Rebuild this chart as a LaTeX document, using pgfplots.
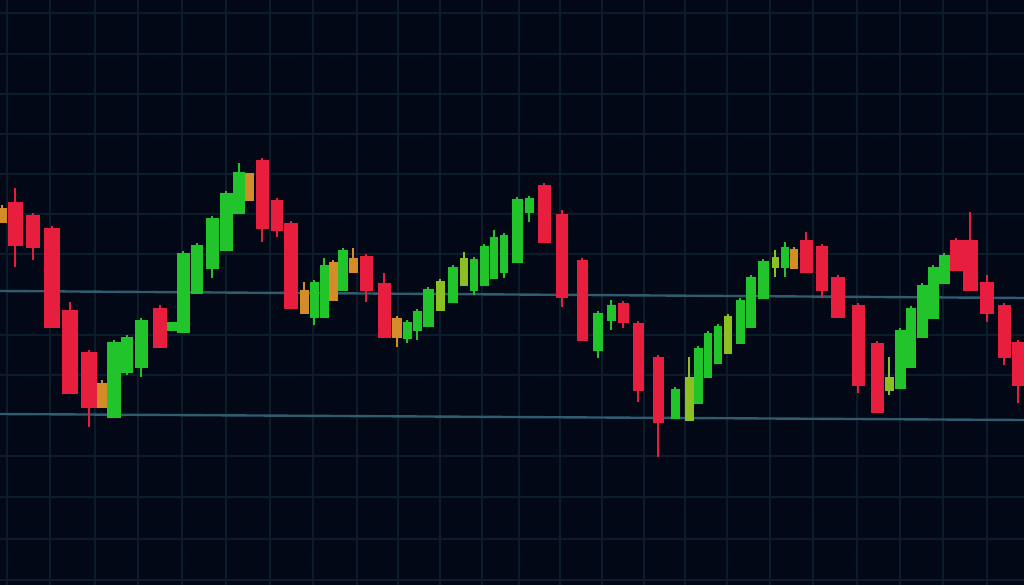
\documentclass[border=0pt]{standalone}
\usepackage{pgfplots}
\pgfplotsset{compat=1.18}
\usepgfplotslibrary{statistics}

\definecolor{bg}{RGB}{3,8,22}
\definecolor{gridc}{RGB}{13,28,42}
\definecolor{level}{RGB}{48,92,112}
\definecolor{cred}{RGB}{232,30,62}
\definecolor{cgreen}{RGB}{34,196,44}
\definecolor{corange}{RGB}{212,140,40}
\definecolor{cyell}{RGB}{140,192,34}

% x, width, wick top, body top, body bottom, wick bottom, colour (picture units, y downwards)
\newcommand\candle[7]{%
  \addplot[#7, fill=#7, line width=0.3pt,
    boxplot prepared={draw direction=y, draw position=#1, box extend=#2,
      lower whisker=#3, lower quartile=#4, median=#4,
      upper quartile=#5, upper whisker=#6, whisker extend=0,
      every whisker/.style={line width=1.1pt}}] coordinates {};}

\begin{document}
\begin{tikzpicture}
\begin{axis}[
  scale only axis, width=512bp, height=292.5bp,
  xmin=0, xmax=1024, ymin=0, ymax=585, y dir=reverse,
  axis background/.style={fill=bg},
  axis line style={draw=none}, tick style={draw=none},
  xticklabels={}, yticklabels={},
  xtick={7,50,95,138,182,226,270,313,357,398,440,482,519,560,602,644,685,727,770,813,857,900,943,987},
  ytick={13,54,94,134,174,214,254,335,375,456,497,539,580},
  grid=major, major grid style={gridc, line width=0.8pt},
  clip=true]

\addplot[level, line width=1.2pt] coordinates {(0,291) (1024,298)};
\addplot[level, line width=1.2pt] coordinates {(0,414) (1024,420)};

\candle{2}{8}{205}{208}{222}{222}{corange}
\candle{15}{14}{188}{202}{245}{267}{cred}
\candle{33}{13}{213}{215}{247}{260}{cred}
\candle{52}{15}{226}{228}{327}{327}{cred}
\candle{70}{15}{302}{310}{393}{393}{cred}
\candle{89}{15}{350}{352}{407}{427}{cred}
\candle{102}{9}{380}{383}{407}{407}{corange}
\candle{114}{13}{340}{342}{417}{417}{cgreen}
\candle{127}{11}{335}{337}{372}{375}{cgreen}
\candle{141}{12}{318}{320}{367}{377}{cgreen}
\candle{160}{13}{305}{308}{347}{347}{cred}
\candle{172}{9}{322}{322}{330}{330}{cgreen}
\candle{183}{12}{251}{253}{332}{332}{cgreen}
\candle{197}{11}{243}{245}{293}{293}{cgreen}
\candle{212}{12}{216}{218}{268}{278}{cgreen}
\candle{226}{12}{191}{193}{250}{250}{cgreen}
\candle{239}{11}{163}{172}{213}{213}{cgreen}
\candle{249}{8}{173}{173}{200}{200}{corange}
\candle{262}{12}{158}{160}{228}{242}{cred}
\candle{277}{11}{198}{200}{230}{237}{cred}
\candle{291}{13}{221}{223}{308}{308}{cred}
\candle{304}{8}{282}{290}{313}{313}{corange}
\candle{314}{8}{280}{282}{317}{325}{cgreen}
\candle{324}{8}{258}{265}{317}{317}{cgreen}
\candle{333}{8}{260}{262}{300}{300}{corange}
\candle{343}{9}{248}{250}{290}{290}{cgreen}
\candle{353}{8}{248}{258}{272}{272}{corange}
\candle{366}{12}{254}{256}{290}{302}{cred}
\candle{384}{12}{273}{283}{337}{337}{cred}
\candle{397}{9}{316}{318}{337}{347}{corange}
\candle{407}{8}{320}{322}{338}{343}{cgreen}
\candle{417}{8}{309}{311}{330}{340}{cgreen}
\candle{428}{10}{287}{289}{326}{326}{cgreen}
\candle{440}{8}{279}{281}{310}{310}{cyell}
\candle{453}{9}{265}{267}{302}{302}{cgreen}
\candle{464}{7}{252}{258}{285}{285}{cyell}
\candle{474}{7}{257}{259}{290}{295}{cgreen}
\candle{484}{8}{244}{246}{285}{285}{cgreen}
\candle{494}{7}{230}{237}{278}{278}{cgreen}
\candle{504}{7}{233}{235}{272}{278}{cgreen}
\candle{517}{10}{197}{199}{262}{262}{cgreen}
\candle{529}{8}{196}{198}{212}{222}{cgreen}
\candle{544}{12}{183}{185}{242}{242}{cred}
\candle{562}{11}{210}{214}{297}{307}{cred}
\candle{582}{10}{258}{260}{340}{340}{cred}
\candle{598}{9}{311}{313}{350}{358}{cgreen}
\candle{611}{8}{300}{305}{320}{330}{cgreen}
\candle{623}{10}{301}{303}{322}{328}{cred}
\candle{638}{10}{321}{323}{390}{402}{cred}
\candle{658}{10}{355}{357}{422}{457}{cred}
\candle{675}{8}{387}{389}{418}{418}{cgreen}
\candle{689}{8}{357}{377}{420}{420}{cyell}
\candle{698}{8}{346}{348}{403}{403}{cgreen}
\candle{708}{7}{331}{333}{377}{377}{cgreen}
\candle{718}{7}{324}{326}{363}{363}{cgreen}
\candle{728}{7}{314}{316}{353}{353}{cyell}
\candle{740}{8}{298}{300}{343}{343}{cgreen}
\candle{751}{9}{275}{277}{327}{327}{cgreen}
\candle{763}{10}{259}{261}{298}{298}{cgreen}
\candle{775}{6}{250}{257}{267}{277}{cyell}
\candle{785}{7}{242}{247}{267}{277}{cgreen}
\candle{794}{7}{247}{249}{268}{268}{corange}
\candle{806}{12}{232}{240}{272}{272}{cred}
\candle{822}{11}{244}{246}{290}{298}{cred}
\candle{838}{13}{275}{277}{317}{317}{cred}
\candle{858}{12}{303}{305}{385}{393}{cred}
\candle{877}{12}{341}{343}{412}{412}{cred}
\candle{889}{8}{357}{377}{390}{395}{cyell}
\candle{900}{10}{328}{330}{388}{388}{cgreen}
\candle{911}{9}{306}{308}{367}{367}{cgreen}
\candle{922}{10}{283}{285}{337}{337}{cgreen}
\candle{933}{10}{265}{267}{318}{318}{cgreen}
\candle{944}{10}{253}{255}{283}{283}{cgreen}
\candle{956}{12}{238}{240}{270}{270}{cred}
\candle{970}{14}{212}{240}{290}{290}{cred}
\candle{987}{13}{275}{282}{313}{322}{cred}
\candle{1004}{12}{303}{305}{357}{365}{cred}
\candle{1018}{12}{340}{342}{385}{403}{cred}
\end{axis}
\pgfresetboundingbox
\path[use as bounding box] (current axis.south west) rectangle (current axis.north east);
\end{tikzpicture}
\end{document}
